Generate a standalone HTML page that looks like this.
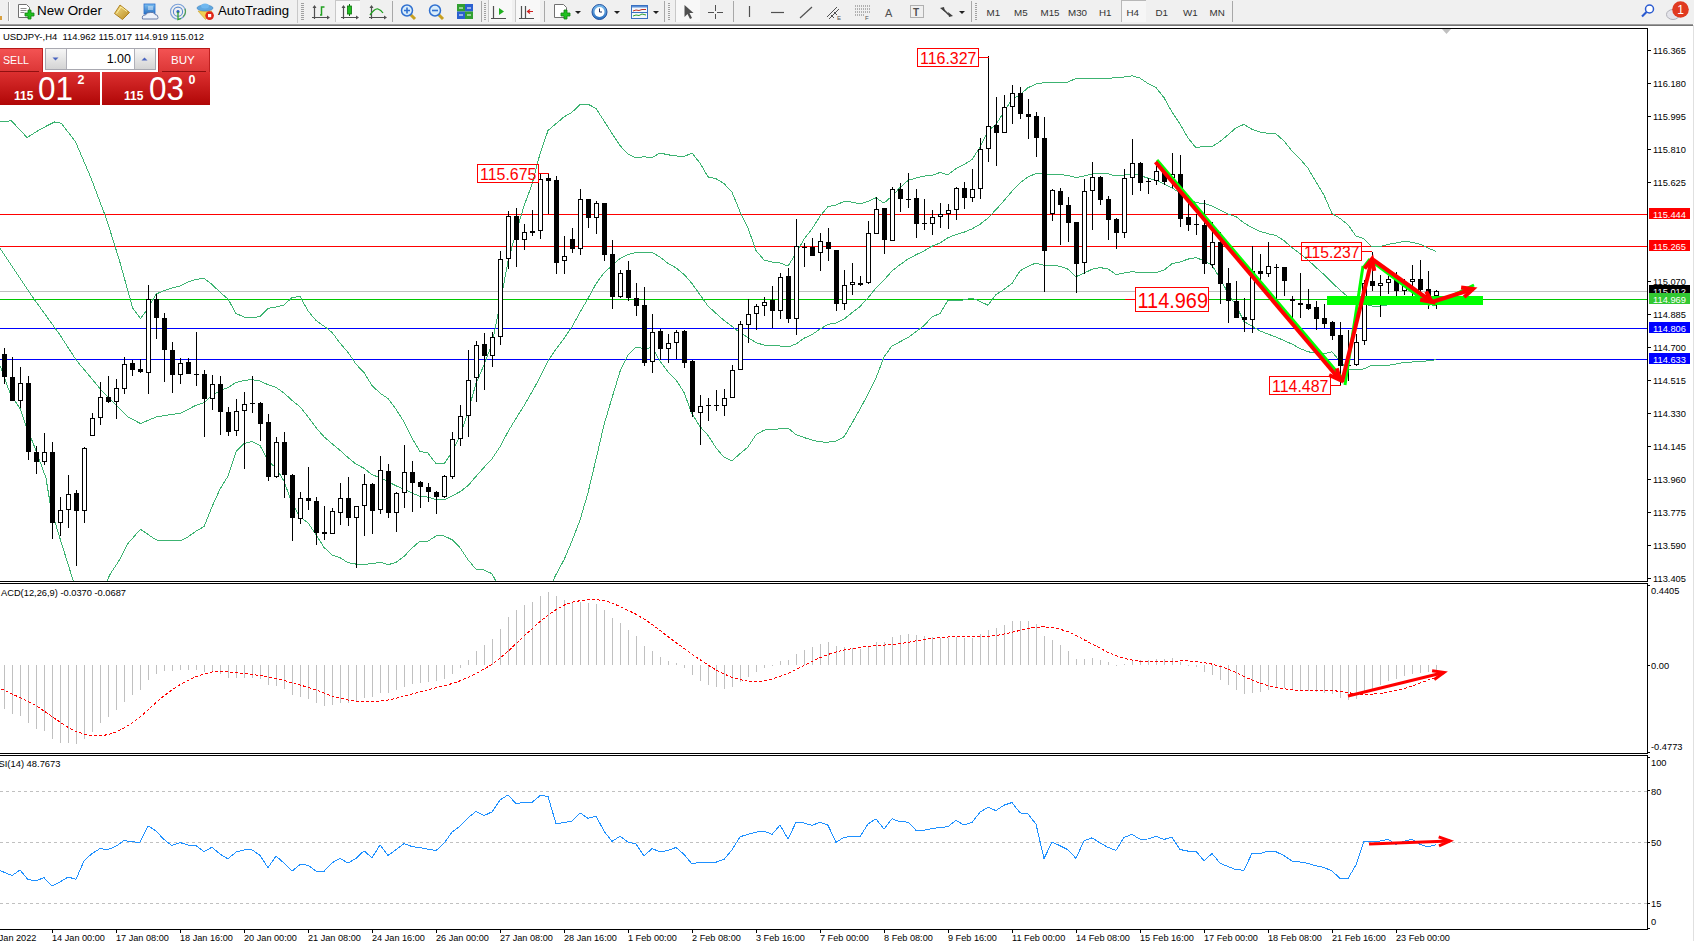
<!DOCTYPE html>
<html><head><meta charset="utf-8"><style>
html,body{margin:0;padding:0;}
body{width:1694px;height:941px;overflow:hidden;position:relative;background:#fff;font-family:"Liberation Sans",sans-serif;}
.tb{position:absolute;left:0;top:0;width:1694px;height:24px;background:#f0f0f0;}
.bev{position:absolute;left:0;top:24px;width:1693px;height:2px;background:linear-gradient(#b0b0b0,#606060);}
.bev2{position:absolute;left:0;top:26px;width:1693px;height:2px;background:#fff;}
</style></head><body>
<svg width="1694" height="941" style="position:absolute;left:0;top:0"><rect x="0" y="28" width="1694" height="913" fill="#fff"/><rect x="0" y="214" width="1647" height="1" fill="#ff0000"/><rect x="0" y="246" width="1647" height="1" fill="#ff0000"/><rect x="0" y="291" width="1647" height="1" fill="#c0c0c0"/><rect x="0" y="299" width="1647" height="1" fill="#00c800"/><rect x="0" y="328" width="1647" height="1" fill="#0000ff"/><rect x="0" y="359" width="1647" height="1" fill="#0000ff"/><line x1="0" y1="791.5" x2="1647" y2="791.5" stroke="#c0c0c0" stroke-width="1" stroke-dasharray="3,3"/><line x1="0" y1="842.5" x2="1647" y2="842.5" stroke="#c0c0c0" stroke-width="1" stroke-dasharray="3,3"/><line x1="0" y1="903.5" x2="1647" y2="903.5" stroke="#c0c0c0" stroke-width="1" stroke-dasharray="3,3"/><defs><clipPath id="mc"><rect x="0" y="29" width="1647" height="552"/></clipPath></defs><g clip-path="url(#mc)"><path d="M0.0,121.9 L11.4,120.8 L27.0,137.5 L41.6,128.6 L54.6,121.9 L61.4,123.4 L75.4,141.6 L91.0,178.0 L106.7,219.7 L119.7,261.3 L132.7,308.1 L140.5,318.5 L148.3,308.1 L156.0,294.1 L164.0,290.5 L172.0,288.1 L180.0,285.9 L188.0,282.1 L196.0,279.3 L204.0,278.5 L212.0,284.4 L220.0,292.2 L228.0,299.0 L236.0,313.4 L244.0,317.1 L252.0,317.8 L260.0,316.6 L268.0,308.4 L276.0,307.0 L284.0,304.9 L292.0,297.6 L300.0,296.4 L308.0,310.9 L316.0,320.5 L324.0,326.2 L332.0,332.3 L340.0,343.0 L348.0,352.4 L356.0,364.1 L364.0,372.6 L372.0,385.5 L380.0,393.1 L388.0,398.6 L396.0,409.3 L404.0,421.9 L412.0,438.2 L420.0,451.4 L428.0,453.1 L436.0,463.6 L444.0,463.9 L452.0,452.1 L460.0,436.0 L468.0,411.8 L476.0,383.5 L484.0,364.9 L492.0,343.8 L500.0,304.3 L508.0,261.4 L516.0,232.6 L524.0,206.0 L532.0,184.4 L540.0,153.7 L548.0,130.6 L556.0,123.7 L564.0,116.9 L572.0,112.3 L580.0,104.4 L588.0,104.2 L596.0,108.4 L604.0,120.9 L612.0,133.4 L620.0,145.6 L628.0,154.1 L636.0,157.9 L644.0,156.8 L652.0,157.5 L660.0,153.0 L668.0,154.8 L676.0,155.9 L684.0,156.5 L692.0,153.0 L700.0,163.1 L708.0,176.9 L716.0,178.7 L724.0,183.6 L732.0,192.2 L740.0,211.6 L748.0,228.1 L756.0,250.6 L764.0,259.9 L772.0,262.1 L780.0,263.0 L788.0,266.0 L796.0,253.4 L804.0,239.1 L812.0,228.9 L820.0,216.3 L828.0,206.6 L836.0,205.0 L844.0,201.5 L852.0,202.1 L860.0,204.0 L868.0,201.4 L876.0,197.8 L884.0,203.2 L892.0,196.0 L900.0,187.6 L908.0,180.4 L916.0,178.0 L924.0,176.1 L932.0,175.5 L940.0,172.4 L948.0,174.8 L956.0,168.5 L964.0,164.5 L972.0,159.6 L980.0,147.1 L988.0,131.0 L996.0,124.4 L1004.0,111.9 L1012.0,99.0 L1020.0,94.9 L1028.0,87.7 L1036.0,84.0 L1044.0,82.7 L1052.0,82.7 L1060.0,82.6 L1068.0,82.0 L1076.0,78.4 L1084.0,78.8 L1092.0,78.7 L1100.0,79.0 L1108.0,78.6 L1116.0,77.5 L1124.0,77.0 L1132.0,75.8 L1140.0,78.1 L1148.0,83.5 L1156.0,87.6 L1164.0,97.6 L1172.0,112.0 L1180.0,124.1 L1188.0,137.9 L1196.0,147.9 L1204.0,146.1 L1212.0,146.7 L1220.0,141.5 L1228.0,134.8 L1236.0,127.8 L1244.0,124.4 L1252.0,129.3 L1260.0,132.0 L1268.0,133.3 L1276.0,134.0 L1284.0,140.9 L1292.0,151.0 L1300.0,158.9 L1308.0,168.3 L1316.0,181.9 L1324.0,195.2 L1332.0,213.5 L1340.0,218.4 L1348.0,224.7 L1356.0,236.1 L1364.0,238.8 L1372.0,246.8 L1380.0,246.7 L1388.0,244.4 L1396.0,243.1 L1404.0,241.2 L1412.0,242.2 L1420.0,244.2 L1428.0,248.1 L1436.0,251.3" fill="none" stroke="#3cb371" stroke-width="1" shape-rendering="crispEdges"/><path d="M0.0,248.3 L15.6,271.7 L31.2,295.1 L60.0,335.0 L76.5,360.5 L102.0,391.0 L127.5,416.6 L140.5,423.6 L156.0,417.0 L164.0,415.7 L172.0,414.4 L180.0,413.4 L188.0,409.5 L196.0,405.2 L204.0,402.6 L212.0,395.6 L220.0,390.7 L228.0,387.6 L236.0,382.5 L244.0,380.4 L252.0,379.7 L260.0,381.0 L268.0,384.7 L276.0,387.4 L284.0,393.0 L292.0,400.4 L300.0,406.7 L308.0,416.8 L316.0,427.6 L324.0,436.8 L332.0,443.6 L340.0,450.3 L348.0,457.6 L356.0,464.1 L364.0,468.3 L372.0,474.7 L380.0,477.6 L388.0,481.7 L396.0,485.8 L404.0,489.2 L412.0,493.1 L420.0,496.3 L428.0,497.1 L436.0,499.8 L444.0,499.9 L452.0,495.9 L460.0,491.8 L468.0,485.7 L476.0,476.4 L484.0,467.4 L492.0,458.8 L500.0,446.8 L508.0,431.7 L516.0,418.4 L524.0,405.8 L532.0,391.9 L540.0,377.3 L548.0,360.7 L556.0,349.2 L564.0,338.4 L572.0,326.7 L580.0,312.3 L588.0,298.5 L596.0,283.8 L604.0,272.8 L612.0,265.7 L620.0,258.5 L628.0,254.4 L636.0,252.5 L644.0,252.8 L652.0,252.5 L660.0,257.0 L668.0,263.3 L676.0,267.9 L684.0,274.4 L692.0,283.5 L700.0,294.8 L708.0,306.1 L716.0,313.3 L724.0,320.4 L732.0,326.4 L740.0,332.7 L748.0,337.5 L756.0,342.7 L764.0,345.0 L772.0,345.8 L780.0,346.0 L788.0,347.0 L796.0,344.0 L804.0,338.3 L812.0,334.5 L820.0,329.1 L828.0,324.4 L836.0,323.0 L844.0,319.1 L852.0,312.7 L860.0,306.5 L868.0,297.8 L876.0,288.0 L884.0,280.0 L892.0,271.0 L900.0,264.7 L908.0,259.0 L916.0,254.8 L924.0,250.9 L932.0,246.2 L940.0,243.0 L948.0,237.6 L956.0,234.7 L964.0,232.2 L972.0,228.9 L980.0,224.3 L988.0,218.1 L996.0,209.6 L1004.0,200.7 L1012.0,191.2 L1020.0,182.8 L1028.0,177.0 L1036.0,173.5 L1044.0,174.0 L1052.0,174.1 L1060.0,174.4 L1068.0,175.6 L1076.0,177.6 L1084.0,176.0 L1092.0,174.0 L1100.0,173.3 L1108.0,173.8 L1116.0,176.0 L1124.0,175.0 L1132.0,173.7 L1140.0,175.4 L1148.0,178.2 L1156.0,180.1 L1164.0,183.8 L1172.0,187.9 L1180.0,193.1 L1188.0,198.5 L1196.0,202.8 L1204.0,203.4 L1212.0,206.0 L1220.0,210.0 L1228.0,213.9 L1236.0,216.6 L1244.0,223.0 L1252.0,227.7 L1260.0,231.4 L1268.0,233.7 L1276.0,235.5 L1284.0,240.7 L1292.0,247.6 L1300.0,253.7 L1308.0,260.0 L1316.0,267.4 L1324.0,274.5 L1332.0,282.6 L1340.0,290.0 L1348.0,297.0 L1356.0,302.9 L1364.0,303.8 L1372.0,306.0 L1380.0,306.0 L1388.0,304.8 L1396.0,303.5 L1404.0,301.7 L1412.0,302.1 L1420.0,302.9 L1428.0,304.4 L1436.0,305.6" fill="none" stroke="#3cb371" stroke-width="1" shape-rendering="crispEdges"/><path d="M0.0,365.6 L10.2,393.6 L20.4,409.0 L25.5,424.2 L35.7,449.7 L45.9,477.8 L51.0,508.4 L58.6,533.9 L71.4,575.0 L76.0,590.0 L104.0,590.0 L109.6,575.0 L119.8,559.4 L127.5,544.0 L140.5,529.2 L156.0,539.9 L164.0,540.9 L172.0,540.7 L180.0,541.0 L188.0,536.9 L196.0,531.1 L204.0,526.6 L212.0,506.8 L220.0,489.2 L228.0,476.1 L236.0,451.7 L244.0,443.6 L252.0,441.5 L260.0,445.4 L268.0,461.1 L276.0,467.8 L284.0,481.1 L292.0,503.3 L300.0,517.0 L308.0,522.8 L316.0,534.7 L324.0,547.4 L332.0,554.9 L340.0,557.7 L348.0,562.7 L356.0,564.1 L364.0,564.1 L372.0,563.9 L380.0,562.1 L388.0,564.8 L396.0,562.3 L404.0,556.5 L412.0,548.0 L420.0,541.2 L428.0,541.1 L436.0,536.0 L444.0,535.9 L452.0,539.7 L460.0,547.7 L468.0,559.7 L476.0,569.3 L484.0,570.0 L492.0,573.7 L500.0,589.3 L508.0,602.0 L516.0,604.2 L524.0,605.7 L532.0,599.3 L540.0,600.9 L548.0,590.8 L556.0,574.6 L564.0,559.8 L572.0,541.0 L580.0,520.1 L588.0,492.8 L596.0,459.3 L604.0,424.7 L612.0,397.9 L620.0,371.5 L628.0,354.8 L636.0,347.0 L644.0,348.7 L652.0,347.6 L660.0,361.0 L668.0,371.9 L676.0,379.9 L684.0,392.4 L692.0,413.9 L700.0,426.5 L708.0,435.3 L716.0,447.9 L724.0,457.2 L732.0,460.7 L740.0,453.7 L748.0,446.9 L756.0,434.7 L764.0,430.1 L772.0,429.4 L780.0,428.9 L788.0,428.0 L796.0,434.6 L804.0,437.5 L812.0,440.1 L820.0,441.9 L828.0,442.2 L836.0,441.1 L844.0,436.8 L852.0,423.2 L860.0,409.0 L868.0,394.2 L876.0,378.1 L884.0,356.9 L892.0,345.9 L900.0,341.8 L908.0,337.5 L916.0,331.7 L924.0,325.7 L932.0,316.9 L940.0,313.6 L948.0,300.3 L956.0,300.9 L964.0,299.9 L972.0,298.1 L980.0,301.4 L988.0,305.2 L996.0,294.7 L1004.0,289.5 L1012.0,283.5 L1020.0,270.8 L1028.0,266.3 L1036.0,263.0 L1044.0,265.4 L1052.0,265.5 L1060.0,266.2 L1068.0,269.2 L1076.0,276.7 L1084.0,273.1 L1092.0,269.3 L1100.0,267.6 L1108.0,268.9 L1116.0,274.5 L1124.0,273.0 L1132.0,271.6 L1140.0,272.7 L1148.0,272.9 L1156.0,272.6 L1164.0,270.1 L1172.0,263.7 L1180.0,262.0 L1188.0,259.1 L1196.0,257.7 L1204.0,260.7 L1212.0,265.3 L1220.0,278.4 L1228.0,293.0 L1236.0,305.4 L1244.0,321.6 L1252.0,326.1 L1260.0,330.9 L1268.0,334.1 L1276.0,337.0 L1284.0,340.5 L1292.0,344.1 L1300.0,348.5 L1308.0,351.8 L1316.0,352.9 L1324.0,353.7 L1332.0,351.7 L1340.0,361.6 L1348.0,369.4 L1356.0,369.7 L1364.0,368.9 L1372.0,365.2 L1380.0,365.3 L1388.0,365.3 L1396.0,364.0 L1404.0,362.3 L1412.0,362.0 L1420.0,361.7 L1428.0,360.8 L1436.0,359.8" fill="none" stroke="#3cb371" stroke-width="1" shape-rendering="crispEdges"/></g><g shape-rendering="crispEdges"><rect x="4" y="348" width="1" height="36" fill="#000"/><rect x="2" y="354" width="5" height="23" fill="#000"/><rect x="12" y="357" width="1" height="44" fill="#000"/><rect x="10" y="377" width="5" height="24" fill="#000"/><rect x="20" y="367" width="1" height="41" fill="#000"/><rect x="18.5" y="383.5" width="4" height="17" fill="#fff" stroke="#000" stroke-width="1"/><rect x="28" y="376" width="1" height="84" fill="#000"/><rect x="26" y="383" width="5" height="69" fill="#000"/><rect x="36" y="446" width="1" height="28" fill="#000"/><rect x="34" y="452" width="5" height="10" fill="#000"/><rect x="44" y="433" width="1" height="32" fill="#000"/><rect x="42.5" y="452.5" width="4" height="9" fill="#fff" stroke="#000" stroke-width="1"/><rect x="52" y="442" width="1" height="97" fill="#000"/><rect x="50" y="452" width="5" height="71" fill="#000"/><rect x="60" y="497" width="1" height="39" fill="#000"/><rect x="58.5" y="510.5" width="4" height="12" fill="#fff" stroke="#000" stroke-width="1"/><rect x="68" y="475" width="1" height="53" fill="#000"/><rect x="66.5" y="494.5" width="4" height="15" fill="#fff" stroke="#000" stroke-width="1"/><rect x="76" y="490" width="1" height="76" fill="#000"/><rect x="74" y="493" width="5" height="18" fill="#000"/><rect x="84" y="447" width="1" height="76" fill="#000"/><rect x="82.5" y="448.5" width="4" height="62" fill="#fff" stroke="#000" stroke-width="1"/><rect x="92" y="413" width="1" height="23" fill="#000"/><rect x="90.5" y="418.5" width="4" height="17" fill="#fff" stroke="#000" stroke-width="1"/><rect x="100" y="382" width="1" height="43" fill="#000"/><rect x="98.5" y="397.5" width="4" height="20" fill="#fff" stroke="#000" stroke-width="1"/><rect x="108" y="376" width="1" height="27" fill="#000"/><rect x="106" y="397" width="5" height="5" fill="#000"/><rect x="116" y="379" width="1" height="40" fill="#000"/><rect x="114.5" y="388.5" width="4" height="13" fill="#fff" stroke="#000" stroke-width="1"/><rect x="124" y="357" width="1" height="37" fill="#000"/><rect x="122.5" y="364.5" width="4" height="24" fill="#fff" stroke="#000" stroke-width="1"/><rect x="132" y="360" width="1" height="16" fill="#000"/><rect x="130" y="363" width="5" height="7" fill="#000"/><rect x="140" y="359" width="1" height="14" fill="#000"/><rect x="138" y="369" width="5" height="3" fill="#000"/><rect x="148" y="285" width="1" height="109" fill="#000"/><rect x="146.5" y="299.5" width="4" height="73" fill="#fff" stroke="#000" stroke-width="1"/><rect x="156" y="294" width="1" height="45" fill="#000"/><rect x="154" y="299" width="5" height="19" fill="#000"/><rect x="164" y="313" width="1" height="69" fill="#000"/><rect x="162" y="318" width="5" height="32" fill="#000"/><rect x="172" y="342" width="1" height="51" fill="#000"/><rect x="170" y="350" width="5" height="25" fill="#000"/><rect x="180" y="358" width="1" height="26" fill="#000"/><rect x="178.5" y="363.5" width="4" height="11" fill="#fff" stroke="#000" stroke-width="1"/><rect x="188" y="358" width="1" height="16" fill="#000"/><rect x="186" y="362" width="5" height="12" fill="#000"/><rect x="196" y="332" width="1" height="54" fill="#000"/><rect x="194" y="374" width="5" height="1" fill="#000"/><rect x="204" y="370" width="1" height="67" fill="#000"/><rect x="202" y="374" width="5" height="25" fill="#000"/><rect x="212" y="375" width="1" height="35" fill="#000"/><rect x="210.5" y="384.5" width="4" height="14" fill="#fff" stroke="#000" stroke-width="1"/><rect x="220" y="376" width="1" height="59" fill="#000"/><rect x="218" y="384" width="5" height="28" fill="#000"/><rect x="228" y="407" width="1" height="29" fill="#000"/><rect x="226" y="412" width="5" height="20" fill="#000"/><rect x="236" y="399" width="1" height="37" fill="#000"/><rect x="234.5" y="411.5" width="4" height="19" fill="#fff" stroke="#000" stroke-width="1"/><rect x="244" y="392" width="1" height="77" fill="#000"/><rect x="242.5" y="404.5" width="4" height="6" fill="#fff" stroke="#000" stroke-width="1"/><rect x="252" y="376" width="1" height="37" fill="#000"/><rect x="250" y="403" width="5" height="1" fill="#000"/><rect x="260" y="402" width="1" height="39" fill="#000"/><rect x="258" y="403" width="5" height="21" fill="#000"/><rect x="268" y="414" width="1" height="67" fill="#000"/><rect x="266" y="422" width="5" height="55" fill="#000"/><rect x="276" y="437" width="1" height="41" fill="#000"/><rect x="274.5" y="442.5" width="4" height="34" fill="#fff" stroke="#000" stroke-width="1"/><rect x="284" y="432" width="1" height="66" fill="#000"/><rect x="282" y="442" width="5" height="33" fill="#000"/><rect x="292" y="474" width="1" height="67" fill="#000"/><rect x="290" y="475" width="5" height="43" fill="#000"/><rect x="300" y="492" width="1" height="32" fill="#000"/><rect x="298.5" y="498.5" width="4" height="20" fill="#fff" stroke="#000" stroke-width="1"/><rect x="308" y="467" width="1" height="43" fill="#000"/><rect x="306" y="498" width="5" height="3" fill="#000"/><rect x="316" y="497" width="1" height="48" fill="#000"/><rect x="314" y="501" width="5" height="32" fill="#000"/><rect x="324" y="506" width="1" height="34" fill="#000"/><rect x="322" y="532" width="5" height="2" fill="#000"/><rect x="332" y="508" width="1" height="26" fill="#000"/><rect x="330.5" y="511.5" width="4" height="22" fill="#fff" stroke="#000" stroke-width="1"/><rect x="340" y="483" width="1" height="42" fill="#000"/><rect x="338.5" y="498.5" width="4" height="14" fill="#fff" stroke="#000" stroke-width="1"/><rect x="348" y="477" width="1" height="49" fill="#000"/><rect x="346" y="498" width="5" height="20" fill="#000"/><rect x="356" y="506" width="1" height="62" fill="#000"/><rect x="354.5" y="506.5" width="4" height="11" fill="#fff" stroke="#000" stroke-width="1"/><rect x="364" y="474" width="1" height="62" fill="#000"/><rect x="362.5" y="484.5" width="4" height="21" fill="#fff" stroke="#000" stroke-width="1"/><rect x="372" y="483" width="1" height="51" fill="#000"/><rect x="370" y="484" width="5" height="27" fill="#000"/><rect x="380" y="456" width="1" height="58" fill="#000"/><rect x="378.5" y="470.5" width="4" height="39" fill="#fff" stroke="#000" stroke-width="1"/><rect x="388" y="464" width="1" height="54" fill="#000"/><rect x="386" y="471" width="5" height="42" fill="#000"/><rect x="396" y="492" width="1" height="40" fill="#000"/><rect x="394.5" y="493.5" width="4" height="19" fill="#fff" stroke="#000" stroke-width="1"/><rect x="404" y="445" width="1" height="63" fill="#000"/><rect x="402.5" y="472.5" width="4" height="20" fill="#fff" stroke="#000" stroke-width="1"/><rect x="412" y="461" width="1" height="51" fill="#000"/><rect x="410" y="472" width="5" height="11" fill="#000"/><rect x="420" y="481" width="1" height="27" fill="#000"/><rect x="418" y="482" width="5" height="5" fill="#000"/><rect x="428" y="483" width="1" height="19" fill="#000"/><rect x="426" y="487" width="5" height="5" fill="#000"/><rect x="436" y="491" width="1" height="23" fill="#000"/><rect x="434" y="492" width="5" height="5" fill="#000"/><rect x="444" y="475" width="1" height="23" fill="#000"/><rect x="442.5" y="476.5" width="4" height="20" fill="#fff" stroke="#000" stroke-width="1"/><rect x="452" y="432" width="1" height="47" fill="#000"/><rect x="450.5" y="439.5" width="4" height="37" fill="#fff" stroke="#000" stroke-width="1"/><rect x="460" y="405" width="1" height="41" fill="#000"/><rect x="458.5" y="416.5" width="4" height="22" fill="#fff" stroke="#000" stroke-width="1"/><rect x="468" y="350" width="1" height="87" fill="#000"/><rect x="466.5" y="380.5" width="4" height="35" fill="#fff" stroke="#000" stroke-width="1"/><rect x="476" y="341" width="1" height="61" fill="#000"/><rect x="474.5" y="345.5" width="4" height="32" fill="#fff" stroke="#000" stroke-width="1"/><rect x="484" y="333" width="1" height="57" fill="#000"/><rect x="482" y="344" width="5" height="12" fill="#000"/><rect x="492" y="332" width="1" height="35" fill="#000"/><rect x="490.5" y="337.5" width="4" height="18" fill="#fff" stroke="#000" stroke-width="1"/><rect x="500" y="251" width="1" height="94" fill="#000"/><rect x="498.5" y="259.5" width="4" height="77" fill="#fff" stroke="#000" stroke-width="1"/><rect x="508" y="211" width="1" height="58" fill="#000"/><rect x="506.5" y="216.5" width="4" height="42" fill="#fff" stroke="#000" stroke-width="1"/><rect x="516" y="208" width="1" height="59" fill="#000"/><rect x="514" y="216" width="5" height="24" fill="#000"/><rect x="524" y="224" width="1" height="26" fill="#000"/><rect x="522.5" y="232.5" width="4" height="7" fill="#fff" stroke="#000" stroke-width="1"/><rect x="532" y="210" width="1" height="26" fill="#000"/><rect x="530.5" y="231.5" width="4" height="1" fill="#fff" stroke="#000" stroke-width="1"/><rect x="540" y="174" width="1" height="65" fill="#000"/><rect x="538.5" y="179.5" width="4" height="51" fill="#fff" stroke="#000" stroke-width="1"/><rect x="548" y="173" width="1" height="41" fill="#000"/><rect x="546" y="178" width="5" height="3" fill="#000"/><rect x="556" y="176" width="1" height="98" fill="#000"/><rect x="554" y="180" width="5" height="83" fill="#000"/><rect x="564" y="236" width="1" height="38" fill="#000"/><rect x="562.5" y="256.5" width="4" height="4" fill="#fff" stroke="#000" stroke-width="1"/><rect x="572" y="228" width="1" height="25" fill="#000"/><rect x="570" y="239" width="5" height="10" fill="#000"/><rect x="580" y="189" width="1" height="66" fill="#000"/><rect x="578.5" y="199.5" width="4" height="49" fill="#fff" stroke="#000" stroke-width="1"/><rect x="588" y="199" width="1" height="29" fill="#000"/><rect x="586" y="199" width="5" height="19" fill="#000"/><rect x="596" y="201" width="1" height="33" fill="#000"/><rect x="594.5" y="203.5" width="4" height="14" fill="#fff" stroke="#000" stroke-width="1"/><rect x="604" y="203" width="1" height="58" fill="#000"/><rect x="602" y="203" width="5" height="52" fill="#000"/><rect x="612" y="240" width="1" height="69" fill="#000"/><rect x="610" y="254" width="5" height="43" fill="#000"/><rect x="620" y="270" width="1" height="28" fill="#000"/><rect x="618.5" y="273.5" width="4" height="23" fill="#fff" stroke="#000" stroke-width="1"/><rect x="628" y="261" width="1" height="40" fill="#000"/><rect x="626" y="270" width="5" height="28" fill="#000"/><rect x="636" y="283" width="1" height="33" fill="#000"/><rect x="634" y="298" width="5" height="8" fill="#000"/><rect x="644" y="287" width="1" height="79" fill="#000"/><rect x="642" y="305" width="5" height="58" fill="#000"/><rect x="652" y="314" width="1" height="59" fill="#000"/><rect x="650.5" y="332.5" width="4" height="29" fill="#fff" stroke="#000" stroke-width="1"/><rect x="660" y="329" width="1" height="31" fill="#000"/><rect x="658" y="331" width="5" height="18" fill="#000"/><rect x="668" y="334" width="1" height="29" fill="#000"/><rect x="666.5" y="343.5" width="4" height="5" fill="#fff" stroke="#000" stroke-width="1"/><rect x="676" y="330" width="1" height="29" fill="#000"/><rect x="674.5" y="332.5" width="4" height="10" fill="#fff" stroke="#000" stroke-width="1"/><rect x="684" y="330" width="1" height="38" fill="#000"/><rect x="682" y="331" width="5" height="32" fill="#000"/><rect x="692" y="360" width="1" height="57" fill="#000"/><rect x="690" y="361" width="5" height="51" fill="#000"/><rect x="700" y="395" width="1" height="50" fill="#000"/><rect x="698.5" y="406.5" width="4" height="6" fill="#fff" stroke="#000" stroke-width="1"/><rect x="708" y="398" width="1" height="23" fill="#000"/><rect x="706" y="405" width="5" height="1" fill="#000"/><rect x="716" y="390" width="1" height="21" fill="#000"/><rect x="714" y="405" width="5" height="1" fill="#000"/><rect x="724" y="389" width="1" height="27" fill="#000"/><rect x="722.5" y="398.5" width="4" height="7" fill="#fff" stroke="#000" stroke-width="1"/><rect x="732" y="365" width="1" height="33" fill="#000"/><rect x="730.5" y="370.5" width="4" height="27" fill="#fff" stroke="#000" stroke-width="1"/><rect x="740" y="321" width="1" height="49" fill="#000"/><rect x="738.5" y="324.5" width="4" height="45" fill="#fff" stroke="#000" stroke-width="1"/><rect x="748" y="299" width="1" height="44" fill="#000"/><rect x="746.5" y="314.5" width="4" height="10" fill="#fff" stroke="#000" stroke-width="1"/><rect x="756" y="304" width="1" height="26" fill="#000"/><rect x="754.5" y="306.5" width="4" height="7" fill="#fff" stroke="#000" stroke-width="1"/><rect x="764" y="297" width="1" height="19" fill="#000"/><rect x="762.5" y="302.5" width="4" height="3" fill="#fff" stroke="#000" stroke-width="1"/><rect x="772" y="286" width="1" height="42" fill="#000"/><rect x="770" y="300" width="5" height="11" fill="#000"/><rect x="780" y="273" width="1" height="46" fill="#000"/><rect x="778.5" y="277.5" width="4" height="33" fill="#fff" stroke="#000" stroke-width="1"/><rect x="788" y="268" width="1" height="55" fill="#000"/><rect x="786" y="276" width="5" height="43" fill="#000"/><rect x="796" y="219" width="1" height="116" fill="#000"/><rect x="794.5" y="246.5" width="4" height="72" fill="#fff" stroke="#000" stroke-width="1"/><rect x="804" y="243" width="1" height="24" fill="#000"/><rect x="802" y="247" width="5" height="1" fill="#000"/><rect x="812" y="238" width="1" height="18" fill="#000"/><rect x="810" y="247" width="5" height="9" fill="#000"/><rect x="820" y="233" width="1" height="38" fill="#000"/><rect x="818.5" y="241.5" width="4" height="11" fill="#fff" stroke="#000" stroke-width="1"/><rect x="828" y="228" width="1" height="33" fill="#000"/><rect x="826" y="242" width="5" height="7" fill="#000"/><rect x="836" y="250" width="1" height="61" fill="#000"/><rect x="834" y="250" width="5" height="54" fill="#000"/><rect x="844" y="270" width="1" height="40" fill="#000"/><rect x="842.5" y="285.5" width="4" height="18" fill="#fff" stroke="#000" stroke-width="1"/><rect x="852" y="263" width="1" height="32" fill="#000"/><rect x="850.5" y="282.5" width="4" height="2" fill="#fff" stroke="#000" stroke-width="1"/><rect x="860" y="276" width="1" height="10" fill="#000"/><rect x="858" y="283" width="5" height="2" fill="#000"/><rect x="868" y="221" width="1" height="63" fill="#000"/><rect x="866.5" y="233.5" width="4" height="49" fill="#fff" stroke="#000" stroke-width="1"/><rect x="876" y="197" width="1" height="37" fill="#000"/><rect x="874.5" y="209.5" width="4" height="24" fill="#fff" stroke="#000" stroke-width="1"/><rect x="884" y="208" width="1" height="46" fill="#000"/><rect x="882" y="208" width="5" height="32" fill="#000"/><rect x="892" y="187" width="1" height="54" fill="#000"/><rect x="890.5" y="189.5" width="4" height="51" fill="#fff" stroke="#000" stroke-width="1"/><rect x="900" y="183" width="1" height="29" fill="#000"/><rect x="898" y="189" width="5" height="10" fill="#000"/><rect x="908" y="173" width="1" height="35" fill="#000"/><rect x="906" y="199" width="5" height="1" fill="#000"/><rect x="916" y="189" width="1" height="49" fill="#000"/><rect x="914" y="198" width="5" height="26" fill="#000"/><rect x="924" y="199" width="1" height="31" fill="#000"/><rect x="922" y="223" width="5" height="1" fill="#000"/><rect x="932" y="210" width="1" height="25" fill="#000"/><rect x="930.5" y="217.5" width="4" height="6" fill="#fff" stroke="#000" stroke-width="1"/><rect x="940" y="203" width="1" height="25" fill="#000"/><rect x="938.5" y="214.5" width="4" height="2" fill="#fff" stroke="#000" stroke-width="1"/><rect x="948" y="204" width="1" height="25" fill="#000"/><rect x="946.5" y="210.5" width="4" height="3" fill="#fff" stroke="#000" stroke-width="1"/><rect x="956" y="187" width="1" height="33" fill="#000"/><rect x="954.5" y="188.5" width="4" height="21" fill="#fff" stroke="#000" stroke-width="1"/><rect x="964" y="182" width="1" height="27" fill="#000"/><rect x="962" y="188" width="5" height="10" fill="#000"/><rect x="972" y="169" width="1" height="33" fill="#000"/><rect x="970.5" y="189.5" width="4" height="8" fill="#fff" stroke="#000" stroke-width="1"/><rect x="980" y="138" width="1" height="61" fill="#000"/><rect x="978.5" y="149.5" width="4" height="39" fill="#fff" stroke="#000" stroke-width="1"/><rect x="988" y="56" width="1" height="106" fill="#000"/><rect x="986.5" y="126.5" width="4" height="22" fill="#fff" stroke="#000" stroke-width="1"/><rect x="996" y="97" width="1" height="69" fill="#000"/><rect x="994" y="125" width="5" height="8" fill="#000"/><rect x="1004" y="95" width="1" height="38" fill="#000"/><rect x="1002.5" y="107.5" width="4" height="25" fill="#fff" stroke="#000" stroke-width="1"/><rect x="1012" y="85" width="1" height="39" fill="#000"/><rect x="1010.5" y="93.5" width="4" height="13" fill="#fff" stroke="#000" stroke-width="1"/><rect x="1020" y="87" width="1" height="32" fill="#000"/><rect x="1018" y="93" width="5" height="21" fill="#000"/><rect x="1028" y="99" width="1" height="40" fill="#000"/><rect x="1026" y="114" width="5" height="3" fill="#000"/><rect x="1036" y="112" width="1" height="45" fill="#000"/><rect x="1034" y="116" width="5" height="22" fill="#000"/><rect x="1044" y="117" width="1" height="175" fill="#000"/><rect x="1042" y="138" width="5" height="113" fill="#000"/><rect x="1052" y="189" width="1" height="32" fill="#000"/><rect x="1050.5" y="190.5" width="4" height="23" fill="#fff" stroke="#000" stroke-width="1"/><rect x="1060" y="188" width="1" height="57" fill="#000"/><rect x="1058" y="191" width="5" height="14" fill="#000"/><rect x="1068" y="197" width="1" height="45" fill="#000"/><rect x="1066" y="205" width="5" height="18" fill="#000"/><rect x="1076" y="222" width="1" height="71" fill="#000"/><rect x="1074" y="222" width="5" height="42" fill="#000"/><rect x="1084" y="179" width="1" height="95" fill="#000"/><rect x="1082.5" y="191.5" width="4" height="71" fill="#fff" stroke="#000" stroke-width="1"/><rect x="1092" y="162" width="1" height="68" fill="#000"/><rect x="1090.5" y="177.5" width="4" height="13" fill="#fff" stroke="#000" stroke-width="1"/><rect x="1100" y="176" width="1" height="29" fill="#000"/><rect x="1098" y="177" width="5" height="23" fill="#000"/><rect x="1108" y="196" width="1" height="44" fill="#000"/><rect x="1106" y="199" width="5" height="21" fill="#000"/><rect x="1116" y="218" width="1" height="31" fill="#000"/><rect x="1114" y="219" width="5" height="14" fill="#000"/><rect x="1124" y="169" width="1" height="69" fill="#000"/><rect x="1122.5" y="178.5" width="4" height="54" fill="#fff" stroke="#000" stroke-width="1"/><rect x="1132" y="139" width="1" height="56" fill="#000"/><rect x="1130.5" y="163.5" width="4" height="14" fill="#fff" stroke="#000" stroke-width="1"/><rect x="1140" y="162" width="1" height="29" fill="#000"/><rect x="1138" y="163" width="5" height="20" fill="#000"/><rect x="1148" y="178" width="1" height="16" fill="#000"/><rect x="1146" y="181" width="5" height="1" fill="#000"/><rect x="1156" y="166" width="1" height="19" fill="#000"/><rect x="1154.5" y="171.5" width="4" height="9" fill="#fff" stroke="#000" stroke-width="1"/><rect x="1164" y="170" width="1" height="15" fill="#000"/><rect x="1162" y="171" width="5" height="11" fill="#000"/><rect x="1172" y="153" width="1" height="35" fill="#000"/><rect x="1170.5" y="174.5" width="4" height="3" fill="#fff" stroke="#000" stroke-width="1"/><rect x="1180" y="155" width="1" height="72" fill="#000"/><rect x="1178" y="174" width="5" height="45" fill="#000"/><rect x="1188" y="195" width="1" height="36" fill="#000"/><rect x="1186" y="217" width="5" height="8" fill="#000"/><rect x="1196" y="214" width="1" height="21" fill="#000"/><rect x="1194" y="224" width="5" height="1" fill="#000"/><rect x="1204" y="200" width="1" height="74" fill="#000"/><rect x="1202" y="225" width="5" height="39" fill="#000"/><rect x="1212" y="222" width="1" height="46" fill="#000"/><rect x="1210.5" y="242.5" width="4" height="22" fill="#fff" stroke="#000" stroke-width="1"/><rect x="1220" y="232" width="1" height="72" fill="#000"/><rect x="1218" y="242" width="5" height="42" fill="#000"/><rect x="1228" y="268" width="1" height="55" fill="#000"/><rect x="1226" y="283" width="5" height="18" fill="#000"/><rect x="1236" y="281" width="1" height="37" fill="#000"/><rect x="1234" y="301" width="5" height="17" fill="#000"/><rect x="1244" y="298" width="1" height="34" fill="#000"/><rect x="1242" y="317" width="5" height="3" fill="#000"/><rect x="1252" y="246" width="1" height="87" fill="#000"/><rect x="1250.5" y="271.5" width="4" height="48" fill="#fff" stroke="#000" stroke-width="1"/><rect x="1260" y="254" width="1" height="26" fill="#000"/><rect x="1258" y="271" width="5" height="3" fill="#000"/><rect x="1268" y="242" width="1" height="35" fill="#000"/><rect x="1266.5" y="266.5" width="4" height="7" fill="#fff" stroke="#000" stroke-width="1"/><rect x="1276" y="264" width="1" height="35" fill="#000"/><rect x="1274" y="267" width="5" height="1" fill="#000"/><rect x="1284" y="267" width="1" height="29" fill="#000"/><rect x="1282" y="267" width="5" height="14" fill="#000"/><rect x="1292" y="296" width="1" height="22" fill="#000"/><rect x="1290" y="299" width="5" height="2" fill="#000"/><rect x="1300" y="273" width="1" height="45" fill="#000"/><rect x="1298" y="303" width="5" height="2" fill="#000"/><rect x="1308" y="289" width="1" height="21" fill="#000"/><rect x="1306" y="304" width="5" height="5" fill="#000"/><rect x="1316" y="301" width="1" height="29" fill="#000"/><rect x="1314" y="307" width="5" height="12" fill="#000"/><rect x="1324" y="304" width="1" height="24" fill="#000"/><rect x="1322" y="318" width="5" height="6" fill="#000"/><rect x="1332" y="321" width="1" height="19" fill="#000"/><rect x="1330" y="322" width="5" height="14" fill="#000"/><rect x="1340" y="322" width="1" height="63" fill="#000"/><rect x="1338" y="335" width="5" height="31" fill="#000"/><rect x="1348" y="330" width="1" height="51" fill="#000"/><rect x="1346" y="365" width="5" height="1" fill="#000"/><rect x="1356" y="334" width="1" height="32" fill="#000"/><rect x="1354.5" y="342.5" width="4" height="22" fill="#fff" stroke="#000" stroke-width="1"/><rect x="1364" y="280" width="1" height="65" fill="#000"/><rect x="1362.5" y="283.5" width="4" height="57" fill="#fff" stroke="#000" stroke-width="1"/><rect x="1372" y="252" width="1" height="39" fill="#000"/><rect x="1370" y="281" width="5" height="5" fill="#000"/><rect x="1380" y="275" width="1" height="42" fill="#000"/><rect x="1378.5" y="283.5" width="4" height="2" fill="#fff" stroke="#000" stroke-width="1"/><rect x="1388" y="276" width="1" height="18" fill="#000"/><rect x="1386.5" y="279.5" width="4" height="3" fill="#fff" stroke="#000" stroke-width="1"/><rect x="1396" y="272" width="1" height="24" fill="#000"/><rect x="1394" y="278" width="5" height="13" fill="#000"/><rect x="1404" y="279" width="1" height="16" fill="#000"/><rect x="1402.5" y="284.5" width="4" height="6" fill="#fff" stroke="#000" stroke-width="1"/><rect x="1412" y="265" width="1" height="31" fill="#000"/><rect x="1410.5" y="279.5" width="4" height="2" fill="#fff" stroke="#000" stroke-width="1"/><rect x="1420" y="260" width="1" height="33" fill="#000"/><rect x="1418" y="279" width="5" height="11" fill="#000"/><rect x="1428" y="271" width="1" height="38" fill="#000"/><rect x="1426" y="289" width="5" height="7" fill="#000"/><rect x="1436" y="290" width="1" height="19" fill="#000"/><rect x="1434.5" y="291.5" width="4" height="4" fill="#fff" stroke="#000" stroke-width="1"/></g><g shape-rendering="crispEdges"><rect x="4" y="665" width="1" height="44" fill="#c0c0c0"/><rect x="12" y="665" width="1" height="49" fill="#c0c0c0"/><rect x="20" y="665" width="1" height="51" fill="#c0c0c0"/><rect x="28" y="665" width="1" height="58" fill="#c0c0c0"/><rect x="36" y="665" width="1" height="64" fill="#c0c0c0"/><rect x="44" y="665" width="1" height="66" fill="#c0c0c0"/><rect x="52" y="665" width="1" height="74" fill="#c0c0c0"/><rect x="60" y="665" width="1" height="78" fill="#c0c0c0"/><rect x="68" y="665" width="1" height="78" fill="#c0c0c0"/><rect x="76" y="665" width="1" height="79" fill="#c0c0c0"/><rect x="84" y="665" width="1" height="74" fill="#c0c0c0"/><rect x="92" y="665" width="1" height="67" fill="#c0c0c0"/><rect x="100" y="665" width="1" height="58" fill="#c0c0c0"/><rect x="108" y="665" width="1" height="52" fill="#c0c0c0"/><rect x="116" y="665" width="1" height="45" fill="#c0c0c0"/><rect x="124" y="665" width="1" height="37" fill="#c0c0c0"/><rect x="132" y="665" width="1" height="30" fill="#c0c0c0"/><rect x="140" y="665" width="1" height="25" fill="#c0c0c0"/><rect x="148" y="665" width="1" height="15" fill="#c0c0c0"/><rect x="156" y="665" width="1" height="9" fill="#c0c0c0"/><rect x="164" y="665" width="1" height="6" fill="#c0c0c0"/><rect x="172" y="665" width="1" height="6" fill="#c0c0c0"/><rect x="180" y="665" width="1" height="5" fill="#c0c0c0"/><rect x="188" y="665" width="1" height="5" fill="#c0c0c0"/><rect x="196" y="665" width="1" height="5" fill="#c0c0c0"/><rect x="204" y="665" width="1" height="7" fill="#c0c0c0"/><rect x="212" y="665" width="1" height="7" fill="#c0c0c0"/><rect x="220" y="665" width="1" height="9" fill="#c0c0c0"/><rect x="228" y="665" width="1" height="13" fill="#c0c0c0"/><rect x="236" y="665" width="1" height="13" fill="#c0c0c0"/><rect x="244" y="665" width="1" height="13" fill="#c0c0c0"/><rect x="252" y="665" width="1" height="13" fill="#c0c0c0"/><rect x="260" y="665" width="1" height="14" fill="#c0c0c0"/><rect x="268" y="665" width="1" height="20" fill="#c0c0c0"/><rect x="276" y="665" width="1" height="21" fill="#c0c0c0"/><rect x="284" y="665" width="1" height="24" fill="#c0c0c0"/><rect x="292" y="665" width="1" height="30" fill="#c0c0c0"/><rect x="300" y="665" width="1" height="32" fill="#c0c0c0"/><rect x="308" y="665" width="1" height="34" fill="#c0c0c0"/><rect x="316" y="665" width="1" height="38" fill="#c0c0c0"/><rect x="324" y="665" width="1" height="41" fill="#c0c0c0"/><rect x="332" y="665" width="1" height="40" fill="#c0c0c0"/><rect x="340" y="665" width="1" height="38" fill="#c0c0c0"/><rect x="348" y="665" width="1" height="38" fill="#c0c0c0"/><rect x="356" y="665" width="1" height="37" fill="#c0c0c0"/><rect x="364" y="665" width="1" height="33" fill="#c0c0c0"/><rect x="372" y="665" width="1" height="32" fill="#c0c0c0"/><rect x="380" y="665" width="1" height="28" fill="#c0c0c0"/><rect x="388" y="665" width="1" height="28" fill="#c0c0c0"/><rect x="396" y="665" width="1" height="25" fill="#c0c0c0"/><rect x="404" y="665" width="1" height="22" fill="#c0c0c0"/><rect x="412" y="665" width="1" height="19" fill="#c0c0c0"/><rect x="420" y="665" width="1" height="18" fill="#c0c0c0"/><rect x="428" y="665" width="1" height="17" fill="#c0c0c0"/><rect x="436" y="665" width="1" height="16" fill="#c0c0c0"/><rect x="444" y="665" width="1" height="14" fill="#c0c0c0"/><rect x="452" y="665" width="1" height="9" fill="#c0c0c0"/><rect x="460" y="665" width="1" height="3" fill="#c0c0c0"/><rect x="468" y="660" width="1" height="5" fill="#c0c0c0"/><rect x="476" y="651" width="1" height="14" fill="#c0c0c0"/><rect x="484" y="645" width="1" height="20" fill="#c0c0c0"/><rect x="492" y="639" width="1" height="26" fill="#c0c0c0"/><rect x="500" y="629" width="1" height="36" fill="#c0c0c0"/><rect x="508" y="617" width="1" height="48" fill="#c0c0c0"/><rect x="516" y="610" width="1" height="55" fill="#c0c0c0"/><rect x="524" y="605" width="1" height="60" fill="#c0c0c0"/><rect x="532" y="602" width="1" height="63" fill="#c0c0c0"/><rect x="540" y="596" width="1" height="69" fill="#c0c0c0"/><rect x="548" y="592" width="1" height="73" fill="#c0c0c0"/><rect x="556" y="596" width="1" height="69" fill="#c0c0c0"/><rect x="564" y="600" width="1" height="65" fill="#c0c0c0"/><rect x="572" y="603" width="1" height="62" fill="#c0c0c0"/><rect x="580" y="602" width="1" height="63" fill="#c0c0c0"/><rect x="588" y="603" width="1" height="62" fill="#c0c0c0"/><rect x="596" y="604" width="1" height="61" fill="#c0c0c0"/><rect x="604" y="610" width="1" height="55" fill="#c0c0c0"/><rect x="612" y="618" width="1" height="47" fill="#c0c0c0"/><rect x="620" y="623" width="1" height="42" fill="#c0c0c0"/><rect x="628" y="630" width="1" height="35" fill="#c0c0c0"/><rect x="636" y="636" width="1" height="29" fill="#c0c0c0"/><rect x="644" y="646" width="1" height="19" fill="#c0c0c0"/><rect x="652" y="651" width="1" height="14" fill="#c0c0c0"/><rect x="660" y="657" width="1" height="8" fill="#c0c0c0"/><rect x="668" y="661" width="1" height="4" fill="#c0c0c0"/><rect x="676" y="663" width="1" height="2" fill="#c0c0c0"/><rect x="684" y="665" width="1" height="3" fill="#c0c0c0"/><rect x="692" y="665" width="1" height="10" fill="#c0c0c0"/><rect x="700" y="665" width="1" height="16" fill="#c0c0c0"/><rect x="708" y="665" width="1" height="20" fill="#c0c0c0"/><rect x="716" y="665" width="1" height="22" fill="#c0c0c0"/><rect x="724" y="665" width="1" height="24" fill="#c0c0c0"/><rect x="732" y="665" width="1" height="22" fill="#c0c0c0"/><rect x="740" y="665" width="1" height="17" fill="#c0c0c0"/><rect x="748" y="665" width="1" height="12" fill="#c0c0c0"/><rect x="756" y="665" width="1" height="7" fill="#c0c0c0"/><rect x="764" y="665" width="1" height="3" fill="#c0c0c0"/><rect x="772" y="665" width="1" height="1" fill="#c0c0c0"/><rect x="780" y="661" width="1" height="4" fill="#c0c0c0"/><rect x="788" y="660" width="1" height="5" fill="#c0c0c0"/><rect x="796" y="654" width="1" height="11" fill="#c0c0c0"/><rect x="804" y="650" width="1" height="15" fill="#c0c0c0"/><rect x="812" y="647" width="1" height="18" fill="#c0c0c0"/><rect x="820" y="644" width="1" height="21" fill="#c0c0c0"/><rect x="828" y="642" width="1" height="23" fill="#c0c0c0"/><rect x="836" y="646" width="1" height="19" fill="#c0c0c0"/><rect x="844" y="647" width="1" height="18" fill="#c0c0c0"/><rect x="852" y="648" width="1" height="17" fill="#c0c0c0"/><rect x="860" y="649" width="1" height="16" fill="#c0c0c0"/><rect x="868" y="646" width="1" height="19" fill="#c0c0c0"/><rect x="876" y="642" width="1" height="23" fill="#c0c0c0"/><rect x="884" y="642" width="1" height="23" fill="#c0c0c0"/><rect x="892" y="637" width="1" height="28" fill="#c0c0c0"/><rect x="900" y="635" width="1" height="30" fill="#c0c0c0"/><rect x="908" y="634" width="1" height="31" fill="#c0c0c0"/><rect x="916" y="635" width="1" height="30" fill="#c0c0c0"/><rect x="924" y="636" width="1" height="29" fill="#c0c0c0"/><rect x="932" y="637" width="1" height="28" fill="#c0c0c0"/><rect x="940" y="638" width="1" height="27" fill="#c0c0c0"/><rect x="948" y="638" width="1" height="27" fill="#c0c0c0"/><rect x="956" y="637" width="1" height="28" fill="#c0c0c0"/><rect x="964" y="638" width="1" height="27" fill="#c0c0c0"/><rect x="972" y="638" width="1" height="27" fill="#c0c0c0"/><rect x="980" y="634" width="1" height="31" fill="#c0c0c0"/><rect x="988" y="630" width="1" height="35" fill="#c0c0c0"/><rect x="996" y="628" width="1" height="37" fill="#c0c0c0"/><rect x="1004" y="625" width="1" height="40" fill="#c0c0c0"/><rect x="1012" y="621" width="1" height="44" fill="#c0c0c0"/><rect x="1020" y="621" width="1" height="44" fill="#c0c0c0"/><rect x="1028" y="621" width="1" height="44" fill="#c0c0c0"/><rect x="1036" y="624" width="1" height="41" fill="#c0c0c0"/><rect x="1044" y="636" width="1" height="29" fill="#c0c0c0"/><rect x="1052" y="640" width="1" height="25" fill="#c0c0c0"/><rect x="1060" y="645" width="1" height="20" fill="#c0c0c0"/><rect x="1068" y="651" width="1" height="14" fill="#c0c0c0"/><rect x="1076" y="659" width="1" height="6" fill="#c0c0c0"/><rect x="1084" y="659" width="1" height="6" fill="#c0c0c0"/><rect x="1092" y="658" width="1" height="7" fill="#c0c0c0"/><rect x="1100" y="660" width="1" height="5" fill="#c0c0c0"/><rect x="1108" y="662" width="1" height="3" fill="#c0c0c0"/><rect x="1116" y="665" width="1" height="1" fill="#c0c0c0"/><rect x="1124" y="664" width="1" height="1" fill="#c0c0c0"/><rect x="1132" y="661" width="1" height="4" fill="#c0c0c0"/><rect x="1140" y="660" width="1" height="5" fill="#c0c0c0"/><rect x="1148" y="660" width="1" height="5" fill="#c0c0c0"/><rect x="1156" y="659" width="1" height="6" fill="#c0c0c0"/><rect x="1164" y="659" width="1" height="6" fill="#c0c0c0"/><rect x="1172" y="658" width="1" height="7" fill="#c0c0c0"/><rect x="1180" y="662" width="1" height="3" fill="#c0c0c0"/><rect x="1188" y="665" width="1" height="1" fill="#c0c0c0"/><rect x="1196" y="665" width="1" height="2" fill="#c0c0c0"/><rect x="1204" y="665" width="1" height="7" fill="#c0c0c0"/><rect x="1212" y="665" width="1" height="10" fill="#c0c0c0"/><rect x="1220" y="665" width="1" height="15" fill="#c0c0c0"/><rect x="1228" y="665" width="1" height="20" fill="#c0c0c0"/><rect x="1236" y="665" width="1" height="25" fill="#c0c0c0"/><rect x="1244" y="665" width="1" height="29" fill="#c0c0c0"/><rect x="1252" y="665" width="1" height="28" fill="#c0c0c0"/><rect x="1260" y="665" width="1" height="27" fill="#c0c0c0"/><rect x="1268" y="665" width="1" height="25" fill="#c0c0c0"/><rect x="1276" y="665" width="1" height="23" fill="#c0c0c0"/><rect x="1284" y="665" width="1" height="23" fill="#c0c0c0"/><rect x="1292" y="665" width="1" height="24" fill="#c0c0c0"/><rect x="1300" y="665" width="1" height="25" fill="#c0c0c0"/><rect x="1308" y="665" width="1" height="26" fill="#c0c0c0"/><rect x="1316" y="665" width="1" height="27" fill="#c0c0c0"/><rect x="1324" y="665" width="1" height="28" fill="#c0c0c0"/><rect x="1332" y="665" width="1" height="29" fill="#c0c0c0"/><rect x="1340" y="665" width="1" height="33" fill="#c0c0c0"/><rect x="1348" y="665" width="1" height="35" fill="#c0c0c0"/><rect x="1356" y="665" width="1" height="34" fill="#c0c0c0"/><rect x="1364" y="665" width="1" height="28" fill="#c0c0c0"/><rect x="1372" y="665" width="1" height="24" fill="#c0c0c0"/><rect x="1380" y="665" width="1" height="20" fill="#c0c0c0"/><rect x="1388" y="665" width="1" height="16" fill="#c0c0c0"/><rect x="1396" y="665" width="1" height="14" fill="#c0c0c0"/><rect x="1404" y="665" width="1" height="11" fill="#c0c0c0"/><rect x="1412" y="665" width="1" height="9" fill="#c0c0c0"/><rect x="1420" y="665" width="1" height="8" fill="#c0c0c0"/><rect x="1428" y="665" width="1" height="7" fill="#c0c0c0"/><rect x="1436" y="665" width="1" height="6" fill="#c0c0c0"/></g><path d="M-4.0,688.0 L4.0,690.0 L12.0,693.9 L20.0,697.7 L28.0,701.5 L36.0,705.4 L44.0,711.0 L52.0,716.5 L60.0,722.1 L68.0,727.4 L76.0,731.4 L84.0,734.2 L92.0,735.9 L100.0,735.9 L108.0,734.6 L116.0,732.2 L124.0,728.1 L132.0,722.9 L140.0,717.0 L148.0,709.9 L156.0,702.6 L164.0,695.8 L172.0,690.0 L180.0,684.7 L188.0,680.3 L196.0,676.7 L204.0,674.1 L212.0,672.0 L220.0,671.4 L228.0,671.8 L236.0,672.6 L244.0,673.5 L252.0,674.4 L260.0,675.5 L268.0,677.1 L276.0,678.7 L284.0,680.5 L292.0,682.8 L300.0,685.0 L308.0,687.3 L316.0,690.0 L324.0,693.1 L332.0,696.0 L340.0,698.1 L348.0,700.0 L356.0,701.4 L364.0,701.8 L372.0,701.8 L380.0,701.1 L388.0,700.0 L396.0,698.3 L404.0,696.2 L412.0,694.1 L420.0,691.9 L428.0,689.7 L436.0,687.8 L444.0,685.7 L452.0,683.6 L460.0,680.8 L468.0,677.4 L476.0,673.5 L484.0,669.1 L492.0,664.3 L500.0,658.4 L508.0,651.3 L516.0,643.7 L524.0,636.1 L532.0,628.8 L540.0,621.6 L548.0,615.0 L556.0,609.6 L564.0,605.2 L572.0,602.3 L580.0,600.7 L588.0,599.9 L596.0,599.7 L604.0,600.6 L612.0,603.0 L620.0,606.5 L628.0,610.3 L636.0,614.3 L644.0,619.0 L652.0,624.5 L660.0,630.4 L668.0,636.7 L676.0,642.7 L684.0,648.3 L692.0,654.1 L700.0,659.7 L708.0,665.1 L716.0,669.8 L724.0,674.0 L732.0,677.3 L740.0,679.7 L748.0,681.2 L756.0,681.6 L764.0,680.8 L772.0,679.1 L780.0,676.4 L788.0,673.4 L796.0,669.6 L804.0,665.4 L812.0,661.5 L820.0,657.8 L828.0,654.5 L836.0,652.0 L844.0,650.0 L852.0,648.6 L860.0,647.4 L868.0,646.5 L876.0,645.7 L884.0,645.1 L892.0,644.4 L900.0,643.6 L908.0,642.3 L916.0,640.9 L924.0,639.6 L932.0,638.3 L940.0,637.4 L948.0,637.0 L956.0,636.5 L964.0,636.5 L972.0,636.8 L980.0,636.9 L988.0,636.4 L996.0,635.5 L1004.0,634.1 L1012.0,632.3 L1020.0,630.4 L1028.0,628.6 L1036.0,627.1 L1044.0,626.9 L1052.0,627.5 L1060.0,629.2 L1068.0,631.7 L1076.0,635.5 L1084.0,639.7 L1092.0,643.9 L1100.0,648.1 L1108.0,652.4 L1116.0,655.7 L1124.0,658.3 L1132.0,660.1 L1140.0,661.1 L1148.0,661.2 L1156.0,661.2 L1164.0,661.2 L1172.0,661.1 L1180.0,661.0 L1188.0,660.9 L1196.0,661.3 L1204.0,662.6 L1212.0,664.1 L1220.0,666.3 L1228.0,669.2 L1236.0,672.6 L1244.0,676.6 L1252.0,680.0 L1260.0,683.0 L1268.0,685.5 L1276.0,687.3 L1284.0,688.7 L1292.0,689.8 L1300.0,690.4 L1308.0,690.5 L1316.0,690.2 L1324.0,690.2 L1332.0,690.5 L1340.0,691.4 L1348.0,692.6 L1356.0,693.9 L1364.0,694.3 L1372.0,694.2 L1380.0,693.5 L1388.0,692.3 L1396.0,690.7 L1404.0,688.7 L1412.0,686.1 L1420.0,683.1 L1428.0,680.1 L1436.0,677.7" fill="none" stroke="#ff0000" stroke-width="1" stroke-dasharray="3,2" shape-rendering="crispEdges"/><path d="M-4.0,869.2 L4.0,872.2 L12.0,875.5 L20.0,870.1 L28.0,879.5 L36.0,880.7 L44.0,877.7 L52.0,886.0 L60.0,882.0 L68.0,877.0 L76.0,879.3 L84.0,860.9 L92.0,853.5 L100.0,848.6 L108.0,849.6 L116.0,846.2 L124.0,840.5 L132.0,841.8 L140.0,842.4 L148.0,825.8 L156.0,831.0 L164.0,839.5 L172.0,845.5 L180.0,842.5 L188.0,845.1 L196.0,845.5 L204.0,851.7 L212.0,847.1 L220.0,854.1 L228.0,858.8 L236.0,852.1 L244.0,850.0 L252.0,849.8 L260.0,855.4 L268.0,867.8 L276.0,856.0 L284.0,863.1 L292.0,871.2 L300.0,864.5 L308.0,865.2 L316.0,871.1 L324.0,871.4 L332.0,862.8 L340.0,858.3 L348.0,863.0 L356.0,858.5 L364.0,850.8 L372.0,857.9 L380.0,844.9 L388.0,855.5 L396.0,849.6 L404.0,843.7 L412.0,846.5 L420.0,847.7 L428.0,849.2 L436.0,850.6 L444.0,843.3 L452.0,832.1 L460.0,826.3 L468.0,817.9 L476.0,811.3 L484.0,815.6 L492.0,811.9 L500.0,799.9 L508.0,795.0 L516.0,803.5 L524.0,802.5 L532.0,802.4 L540.0,795.7 L548.0,796.2 L556.0,823.8 L564.0,822.6 L572.0,821.2 L580.0,812.8 L588.0,818.4 L596.0,816.0 L604.0,831.1 L612.0,841.4 L620.0,836.3 L628.0,842.1 L636.0,844.0 L644.0,856.1 L652.0,848.5 L660.0,852.0 L668.0,850.3 L676.0,847.5 L684.0,854.4 L692.0,864.0 L700.0,862.2 L708.0,862.2 L716.0,862.2 L724.0,859.4 L732.0,849.8 L740.0,836.8 L748.0,834.3 L756.0,832.2 L764.0,831.0 L772.0,834.4 L780.0,825.1 L788.0,839.0 L796.0,822.3 L804.0,823.0 L812.0,825.4 L820.0,822.2 L828.0,825.2 L836.0,842.4 L844.0,837.3 L852.0,836.6 L860.0,836.7 L868.0,824.0 L876.0,818.8 L884.0,829.2 L892.0,818.7 L900.0,821.8 L908.0,822.1 L916.0,830.3 L924.0,830.3 L932.0,828.5 L940.0,827.6 L948.0,826.6 L956.0,820.4 L964.0,825.0 L972.0,822.4 L980.0,812.2 L988.0,807.3 L996.0,810.6 L1004.0,805.2 L1012.0,802.5 L1020.0,812.9 L1028.0,814.0 L1036.0,824.1 L1044.0,858.7 L1052.0,842.1 L1060.0,845.7 L1068.0,849.7 L1076.0,858.4 L1084.0,840.8 L1092.0,837.8 L1100.0,842.9 L1108.0,847.4 L1116.0,850.3 L1124.0,837.4 L1132.0,834.4 L1140.0,839.2 L1148.0,839.0 L1156.0,836.4 L1164.0,839.4 L1172.0,837.3 L1180.0,849.5 L1188.0,851.1 L1196.0,851.2 L1204.0,860.8 L1212.0,853.5 L1220.0,863.1 L1228.0,866.6 L1236.0,869.7 L1244.0,870.2 L1252.0,853.2 L1260.0,853.7 L1268.0,851.1 L1276.0,851.8 L1284.0,855.6 L1292.0,861.1 L1300.0,862.0 L1308.0,863.3 L1316.0,865.9 L1324.0,867.4 L1332.0,871.0 L1340.0,878.4 L1348.0,878.4 L1356.0,865.0 L1364.0,841.0 L1372.0,842.0 L1380.0,841.1 L1388.0,839.3 L1396.0,844.3 L1404.0,841.3 L1412.0,839.2 L1420.0,844.3 L1428.0,847.0 L1436.0,844.6" fill="none" stroke="#1e90ff" stroke-width="1" shape-rendering="crispEdges"/><rect x="917.5" y="48.5" width="61" height="18" fill="none" stroke="#ff0000" stroke-width="1"/><line x1="979" y1="57.5" x2="989" y2="57.5" stroke="#ff0000" stroke-width="1"/><text x="920" y="64" font-family='"Liberation Sans", sans-serif' font-size="17" fill="#ff0000" textLength="56.5" lengthAdjust="spacingAndGlyphs">116.327</text><rect x="477.5" y="164.5" width="61" height="18" fill="none" stroke="#ff0000" stroke-width="1"/><line x1="539" y1="173.5" x2="549" y2="173.5" stroke="#ff0000" stroke-width="1"/><text x="480" y="180" font-family='"Liberation Sans", sans-serif' font-size="17" fill="#ff0000" textLength="56.5" lengthAdjust="spacingAndGlyphs">115.675</text><rect x="1301.5" y="242.5" width="60" height="18" fill="none" stroke="#ff0000" stroke-width="1"/><line x1="1362" y1="251.5" x2="1372" y2="251.5" stroke="#ff0000" stroke-width="1"/><text x="1304" y="258" font-family='"Liberation Sans", sans-serif' font-size="17" fill="#ff0000" textLength="55.5" lengthAdjust="spacingAndGlyphs">115.237</text><rect x="1269.5" y="376.5" width="61" height="18" fill="none" stroke="#ff0000" stroke-width="1"/><line x1="1331" y1="385.5" x2="1341" y2="385.5" stroke="#ff0000" stroke-width="1"/><text x="1272" y="392" font-family='"Liberation Sans", sans-serif' font-size="17" fill="#ff0000" textLength="56.5" lengthAdjust="spacingAndGlyphs">114.487</text><line x1="1125" y1="299.5" x2="1135" y2="299.5" stroke="#ff0000" stroke-width="1"/><rect x="1135.5" y="287.5" width="73" height="24" fill="#fff" stroke="#ff0000" stroke-width="1"/><text x="1137.5" y="308" font-family='"Liberation Sans", sans-serif' font-size="22.5" fill="#ff0000" textLength="70.5" lengthAdjust="spacingAndGlyphs">114.969</text><rect x="1327" y="296" width="156" height="9" fill="#00ff00"/><g clip-path="url(#mc)"><line x1="1157" y1="160" x2="1343" y2="379" stroke="#00ff00" stroke-width="3"/><line x1="1345" y1="385" x2="1363" y2="266" stroke="#00ff00" stroke-width="3"/><line x1="1374" y1="263" x2="1430" y2="305" stroke="#00ff00" stroke-width="3"/><line x1="1433" y1="305" x2="1474" y2="285" stroke="#00ff00" stroke-width="3"/><polyline points="1363,268 1370,259" stroke="#00ff00" stroke-width="3"/><line x1="1155.5" y1="162" x2="1340" y2="380" stroke="#ff0000" stroke-width="4"/><polyline points="1329.1,375.0 1340,380 1336.8,368.4" fill="none" stroke="#ff0000" stroke-width="4" stroke-linejoin="miter" stroke-miterlimit="10"/><line x1="1342" y1="382" x2="1372" y2="259" stroke="#ff0000" stroke-width="4"/><polyline points="1374.3,270.8 1372,259 1364.5,268.4" fill="none" stroke="#ff0000" stroke-width="4" stroke-linejoin="miter" stroke-miterlimit="10"/><line x1="1372" y1="259" x2="1432" y2="302" stroke="#ff0000" stroke-width="4"/><polyline points="1420.2,299.8 1432,302 1426.1,291.5" fill="none" stroke="#ff0000" stroke-width="4" stroke-linejoin="miter" stroke-miterlimit="10"/><line x1="1432" y1="302" x2="1473" y2="289" stroke="#ff0000" stroke-width="4"/><polyline points="1464.2,297.1 1473,289 1461.1,287.5" fill="none" stroke="#ff0000" stroke-width="4" stroke-linejoin="miter" stroke-miterlimit="10"/></g><line x1="1348" y1="696" x2="1444" y2="672.5" stroke="#ff0000" stroke-width="3"/><polyline points="1434.3,679.5 1444,672.5 1432.1,670.8" fill="none" stroke="#ff0000" stroke-width="3" stroke-linejoin="miter" stroke-miterlimit="10"/><line x1="1369" y1="844" x2="1450" y2="841" stroke="#ff0000" stroke-width="3"/><polyline points="1439.0,845.9 1450,841 1438.7,836.9" fill="none" stroke="#ff0000" stroke-width="3" stroke-linejoin="miter" stroke-miterlimit="10"/><rect x="0" y="28" width="1648" height="1" fill="#000"/><rect x="0" y="581" width="1648" height="1" fill="#000"/><rect x="0" y="583" width="1648" height="1" fill="#000"/><rect x="0" y="753" width="1648" height="1" fill="#000"/><rect x="0" y="755" width="1648" height="1" fill="#000"/><rect x="0" y="929" width="1648" height="1" fill="#000"/><rect x="1647" y="28" width="1" height="554" fill="#000"/><rect x="1647" y="583" width="1" height="171" fill="#000"/><rect x="1647" y="755" width="1" height="175" fill="#000"/><rect x="1648" y="585" width="2" height="1" fill="#000"/><rect x="1648" y="665" width="2" height="1" fill="#000"/><rect x="1648" y="752" width="2" height="1" fill="#000"/><rect x="1648" y="757" width="2" height="1" fill="#000"/><rect x="1648" y="790" width="2" height="1" fill="#000"/><rect x="1648" y="842" width="2" height="1" fill="#000"/><rect x="1648" y="903" width="2" height="1" fill="#000"/><rect x="1648" y="928" width="2" height="1" fill="#000"/><rect x="1693" y="25" width="1" height="916" fill="#e0e0e0"/><polygon points="1442,29 1451,29 1446.5,34" fill="#c0c0c0"/><rect x="1648" y="50" width="3" height="1" fill="#000"/><text x="1653" y="54" font-family='"Liberation Sans", sans-serif' font-size="9.3" fill="#000">116.365</text><rect x="1648" y="83" width="3" height="1" fill="#000"/><text x="1653" y="87" font-family='"Liberation Sans", sans-serif' font-size="9.3" fill="#000">116.180</text><rect x="1648" y="116" width="3" height="1" fill="#000"/><text x="1653" y="120" font-family='"Liberation Sans", sans-serif' font-size="9.3" fill="#000">115.995</text><rect x="1648" y="149" width="3" height="1" fill="#000"/><text x="1653" y="153" font-family='"Liberation Sans", sans-serif' font-size="9.3" fill="#000">115.810</text><rect x="1648" y="182" width="3" height="1" fill="#000"/><text x="1653" y="186" font-family='"Liberation Sans", sans-serif' font-size="9.3" fill="#000">115.625</text><rect x="1648" y="281" width="3" height="1" fill="#000"/><text x="1653" y="285" font-family='"Liberation Sans", sans-serif' font-size="9.3" fill="#000">115.070</text><rect x="1648" y="314" width="3" height="1" fill="#000"/><text x="1653" y="318" font-family='"Liberation Sans", sans-serif' font-size="9.3" fill="#000">114.885</text><rect x="1648" y="347" width="3" height="1" fill="#000"/><text x="1653" y="351" font-family='"Liberation Sans", sans-serif' font-size="9.3" fill="#000">114.700</text><rect x="1648" y="380" width="3" height="1" fill="#000"/><text x="1653" y="384" font-family='"Liberation Sans", sans-serif' font-size="9.3" fill="#000">114.515</text><rect x="1648" y="413" width="3" height="1" fill="#000"/><text x="1653" y="417" font-family='"Liberation Sans", sans-serif' font-size="9.3" fill="#000">114.330</text><rect x="1648" y="446" width="3" height="1" fill="#000"/><text x="1653" y="450" font-family='"Liberation Sans", sans-serif' font-size="9.3" fill="#000">114.145</text><rect x="1648" y="479" width="3" height="1" fill="#000"/><text x="1653" y="483" font-family='"Liberation Sans", sans-serif' font-size="9.3" fill="#000">113.960</text><rect x="1648" y="512" width="3" height="1" fill="#000"/><text x="1653" y="516" font-family='"Liberation Sans", sans-serif' font-size="9.3" fill="#000">113.775</text><rect x="1648" y="545" width="3" height="1" fill="#000"/><text x="1653" y="549" font-family='"Liberation Sans", sans-serif' font-size="9.3" fill="#000">113.590</text><rect x="1648" y="578" width="3" height="1" fill="#000"/><text x="1653" y="582" font-family='"Liberation Sans", sans-serif' font-size="9.3" fill="#000">113.405</text><rect x="1649" y="208" width="41" height="11" fill="#ff0000"/><text x="1653" y="218" font-family='"Liberation Sans", sans-serif' font-size="9.3" fill="#fff">115.444</text><rect x="1649" y="240" width="41" height="11" fill="#ff0000"/><text x="1653" y="250" font-family='"Liberation Sans", sans-serif' font-size="9.3" fill="#fff">115.265</text><rect x="1649" y="285" width="41" height="11" fill="#000"/><text x="1653" y="295" font-family='"Liberation Sans", sans-serif' font-size="9.3" fill="#fff">115.012</text><rect x="1649" y="293" width="41" height="11" fill="#32c832"/><text x="1653" y="303" font-family='"Liberation Sans", sans-serif' font-size="9.3" fill="#fff">114.969</text><rect x="1649" y="322" width="41" height="11" fill="#0000ff"/><text x="1653" y="332" font-family='"Liberation Sans", sans-serif' font-size="9.3" fill="#fff">114.806</text><rect x="1649" y="353" width="41" height="11" fill="#0000ff"/><text x="1653" y="363" font-family='"Liberation Sans", sans-serif' font-size="9.3" fill="#fff">114.633</text><text x="1651" y="594" font-family='"Liberation Sans", sans-serif' font-size="9.3" fill="#000">0.4405</text><text x="1651" y="669" font-family='"Liberation Sans", sans-serif' font-size="9.3" fill="#000">0.00</text><text x="1651" y="750" font-family='"Liberation Sans", sans-serif' font-size="9.3" fill="#000">-0.4773</text><text x="1651" y="766" font-family='"Liberation Sans", sans-serif' font-size="9.3" fill="#000">100</text><text x="1651" y="795" font-family='"Liberation Sans", sans-serif' font-size="9.3" fill="#000">80</text><text x="1651" y="846" font-family='"Liberation Sans", sans-serif' font-size="9.3" fill="#000">50</text><text x="1651" y="907" font-family='"Liberation Sans", sans-serif' font-size="9.3" fill="#000">15</text><text x="1651" y="925" font-family='"Liberation Sans", sans-serif' font-size="9.3" fill="#000">0</text><text x="-14" y="941.5" font-family='"Liberation Sans", sans-serif' font-size="9.3" fill="#000" transform="translate(-14,0) scale(0.985,1) translate(14,0)">13 Jan 2022</text><rect x="52" y="929" width="1" height="4" fill="#000"/><text x="52" y="941.5" font-family='"Liberation Sans", sans-serif' font-size="9.3" fill="#000" transform="translate(52,0) scale(0.985,1) translate(-52,0)">14 Jan 00:00</text><rect x="116" y="929" width="1" height="4" fill="#000"/><text x="116" y="941.5" font-family='"Liberation Sans", sans-serif' font-size="9.3" fill="#000" transform="translate(116,0) scale(0.985,1) translate(-116,0)">17 Jan 08:00</text><rect x="180" y="929" width="1" height="4" fill="#000"/><text x="180" y="941.5" font-family='"Liberation Sans", sans-serif' font-size="9.3" fill="#000" transform="translate(180,0) scale(0.985,1) translate(-180,0)">18 Jan 16:00</text><rect x="244" y="929" width="1" height="4" fill="#000"/><text x="244" y="941.5" font-family='"Liberation Sans", sans-serif' font-size="9.3" fill="#000" transform="translate(244,0) scale(0.985,1) translate(-244,0)">20 Jan 00:00</text><rect x="308" y="929" width="1" height="4" fill="#000"/><text x="308" y="941.5" font-family='"Liberation Sans", sans-serif' font-size="9.3" fill="#000" transform="translate(308,0) scale(0.985,1) translate(-308,0)">21 Jan 08:00</text><rect x="372" y="929" width="1" height="4" fill="#000"/><text x="372" y="941.5" font-family='"Liberation Sans", sans-serif' font-size="9.3" fill="#000" transform="translate(372,0) scale(0.985,1) translate(-372,0)">24 Jan 16:00</text><rect x="436" y="929" width="1" height="4" fill="#000"/><text x="436" y="941.5" font-family='"Liberation Sans", sans-serif' font-size="9.3" fill="#000" transform="translate(436,0) scale(0.985,1) translate(-436,0)">26 Jan 00:00</text><rect x="500" y="929" width="1" height="4" fill="#000"/><text x="500" y="941.5" font-family='"Liberation Sans", sans-serif' font-size="9.3" fill="#000" transform="translate(500,0) scale(0.985,1) translate(-500,0)">27 Jan 08:00</text><rect x="564" y="929" width="1" height="4" fill="#000"/><text x="564" y="941.5" font-family='"Liberation Sans", sans-serif' font-size="9.3" fill="#000" transform="translate(564,0) scale(0.985,1) translate(-564,0)">28 Jan 16:00</text><rect x="628" y="929" width="1" height="4" fill="#000"/><text x="628" y="941.5" font-family='"Liberation Sans", sans-serif' font-size="9.3" fill="#000" transform="translate(628,0) scale(0.985,1) translate(-628,0)">1 Feb 00:00</text><rect x="692" y="929" width="1" height="4" fill="#000"/><text x="692" y="941.5" font-family='"Liberation Sans", sans-serif' font-size="9.3" fill="#000" transform="translate(692,0) scale(0.985,1) translate(-692,0)">2 Feb 08:00</text><rect x="756" y="929" width="1" height="4" fill="#000"/><text x="756" y="941.5" font-family='"Liberation Sans", sans-serif' font-size="9.3" fill="#000" transform="translate(756,0) scale(0.985,1) translate(-756,0)">3 Feb 16:00</text><rect x="820" y="929" width="1" height="4" fill="#000"/><text x="820" y="941.5" font-family='"Liberation Sans", sans-serif' font-size="9.3" fill="#000" transform="translate(820,0) scale(0.985,1) translate(-820,0)">7 Feb 00:00</text><rect x="884" y="929" width="1" height="4" fill="#000"/><text x="884" y="941.5" font-family='"Liberation Sans", sans-serif' font-size="9.3" fill="#000" transform="translate(884,0) scale(0.985,1) translate(-884,0)">8 Feb 08:00</text><rect x="948" y="929" width="1" height="4" fill="#000"/><text x="948" y="941.5" font-family='"Liberation Sans", sans-serif' font-size="9.3" fill="#000" transform="translate(948,0) scale(0.985,1) translate(-948,0)">9 Feb 16:00</text><rect x="1012" y="929" width="1" height="4" fill="#000"/><text x="1012" y="941.5" font-family='"Liberation Sans", sans-serif' font-size="9.3" fill="#000" transform="translate(1012,0) scale(0.985,1) translate(-1012,0)">11 Feb 00:00</text><rect x="1076" y="929" width="1" height="4" fill="#000"/><text x="1076" y="941.5" font-family='"Liberation Sans", sans-serif' font-size="9.3" fill="#000" transform="translate(1076,0) scale(0.985,1) translate(-1076,0)">14 Feb 08:00</text><rect x="1140" y="929" width="1" height="4" fill="#000"/><text x="1140" y="941.5" font-family='"Liberation Sans", sans-serif' font-size="9.3" fill="#000" transform="translate(1140,0) scale(0.985,1) translate(-1140,0)">15 Feb 16:00</text><rect x="1204" y="929" width="1" height="4" fill="#000"/><text x="1204" y="941.5" font-family='"Liberation Sans", sans-serif' font-size="9.3" fill="#000" transform="translate(1204,0) scale(0.985,1) translate(-1204,0)">17 Feb 00:00</text><rect x="1268" y="929" width="1" height="4" fill="#000"/><text x="1268" y="941.5" font-family='"Liberation Sans", sans-serif' font-size="9.3" fill="#000" transform="translate(1268,0) scale(0.985,1) translate(-1268,0)">18 Feb 08:00</text><rect x="1332" y="929" width="1" height="4" fill="#000"/><text x="1332" y="941.5" font-family='"Liberation Sans", sans-serif' font-size="9.3" fill="#000" transform="translate(1332,0) scale(0.985,1) translate(-1332,0)">21 Feb 16:00</text><rect x="1396" y="929" width="1" height="4" fill="#000"/><text x="1396" y="941.5" font-family='"Liberation Sans", sans-serif' font-size="9.3" fill="#000" transform="translate(1396,0) scale(0.985,1) translate(-1396,0)">23 Feb 00:00</text><text x="3" y="40" font-family='"Liberation Sans", sans-serif' font-size="9.3" fill="#000" textLength="201" lengthAdjust="spacingAndGlyphs" xml:space="preserve">USDJPY-,H4  114.962 115.017 114.919 115.012</text><text x="1" y="596" font-family='"Liberation Sans", sans-serif' font-size="9.3" fill="#000" textLength="125" lengthAdjust="spacingAndGlyphs">ACD(12,26,9) -0.0370 -0.0687</text><text x="-1.5" y="767" font-family='"Liberation Sans", sans-serif' font-size="9.3" fill="#000" textLength="62" lengthAdjust="spacingAndGlyphs">SI(14) 48.7673</text></svg>
<div class="tb"><svg width="1694" height="24" style="position:absolute;left:0;top:0" font-family="Liberation Sans, sans-serif">
<defs>
<linearGradient id="gpress" x1="0" y1="0" x2="0" y2="1"><stop offset="0" stop-color="#f7f7f7"/><stop offset="1" stop-color="#ececec"/></linearGradient>
<linearGradient id="gbook" x1="0" y1="0" x2="1" y2="1"><stop offset="0" stop-color="#f6e08a"/><stop offset="1" stop-color="#b98a20"/></linearGradient>
<linearGradient id="gblue" x1="0" y1="0" x2="0" y2="1"><stop offset="0" stop-color="#7fc0f0"/><stop offset="1" stop-color="#2a6fc0"/></linearGradient>
</defs>
<!-- left fragment -->
<rect x="0" y="16" width="2" height="4" fill="#d8a040"/>
<rect x="8" y="2" width="1" height="19" fill="#a8a8a8"/><rect x="9" y="2" width="1" height="19" fill="#fff"/>
<!-- new order icon -->
<path d="M18.5,4.5 h8 l3,3 v10 h-11 z" fill="#fff" stroke="#707070"/>
<path d="M20.5,8.5h6M20.5,10.5h6M20.5,12.5h4" stroke="#909090"/>
<path d="M25,13h3v-3h3v3h3v3h-3v3h-3v-3h-3z" fill="#20c020" stroke="#108010" stroke-width="0.8"/>
<text x="37" y="15" font-size="12" fill="#000" textLength="65" lengthAdjust="spacingAndGlyphs">New Order</text>
<!-- book -->
<path d="M114.5,13.5 L120,5 L129.5,12.5 L122.5,19.5 Z" fill="url(#gbook)" stroke="#a87812" stroke-width="0.9"/>
<path d="M116.5,13.5 L121,7 L127,11.5" fill="none" stroke="#fff2a0" stroke-width="1"/>
<!-- cloud / market -->
<rect x="144" y="4" width="11" height="10" fill="url(#gblue)" stroke="#2a70d0" stroke-width="0.8"/>
<path d="M148,7h5M148,9h5" stroke="#fff" stroke-width="0.8"/>
<path d="M142.5,19 q-1,-4 3,-4 q1,-3 5,-2.5 q3,-1 4.5,2 q3,0 3,3 q0,1.5 -1,1.5 z" fill="#eef2fa" stroke="#5a70a0" stroke-width="0.9"/>
<!-- signals -->
<circle cx="178" cy="11.7" r="7.5" fill="none" stroke="#7aa0d8" stroke-width="1.1"/>
<circle cx="178" cy="11.7" r="4.6" fill="none" stroke="#5a8ad0" stroke-width="1.1"/>
<path d="M178,11.7 m5,5 a7.5,7.5 0 0 0 2,-8" stroke="#50a050" stroke-width="1.2" fill="none"/>
<circle cx="178" cy="11.7" r="1.6" fill="#2a60c0"/>
<path d="M178,12 v7.5 l3,-1" stroke="#30a030" stroke-width="1.3" fill="none"/>
<!-- autotrading -->
<path d="M198,11 h14 l-6.5,8.5 z" fill="#f2d050" stroke="#c8a030" stroke-width="0.6"/>
<ellipse cx="205" cy="8" rx="8" ry="3" fill="#60a8e0" stroke="#3a80c0" stroke-width="0.6"/>
<ellipse cx="205" cy="6" rx="4" ry="2.5" fill="#70b8f0"/>
<circle cx="209.6" cy="15.6" r="4.3" fill="#e02818"/><rect x="208" y="14" width="3.2" height="3.2" fill="#fff"/>
<text x="218" y="15" font-size="12" fill="#000" textLength="71" lengthAdjust="spacingAndGlyphs">AutoTrading</text>
<!-- grip -->
<rect x="297" y="0" width="1" height="23" fill="#c8c8c8"/>
<rect x="301" y="3" width="3" height="1" fill="#a0a0a0"/><rect x="301" y="5" width="3" height="1" fill="#a0a0a0"/><rect x="301" y="7" width="3" height="1" fill="#a0a0a0"/><rect x="301" y="9" width="3" height="1" fill="#a0a0a0"/><rect x="301" y="11" width="3" height="1" fill="#a0a0a0"/><rect x="301" y="13" width="3" height="1" fill="#a0a0a0"/><rect x="301" y="15" width="3" height="1" fill="#a0a0a0"/><rect x="301" y="17" width="3" height="1" fill="#a0a0a0"/><rect x="301" y="19" width="3" height="1" fill="#a0a0a0"/>
<!-- bar chart -->
<path d="M314.5,6v13M312,17.5h15" stroke="#505050" stroke-width="1.2"/><path d="M312.5,8l2,-3l2,3zM327,15.5l3,2l-3,2z" fill="#505050"/>
<path d="M320,15h1.5v-8h3" stroke="#20a020" stroke-width="1.5" fill="none"/>
<!-- candle pressed -->
<rect x="335" y="0" width="25" height="22" fill="#f8f8f8"/><rect x="335" y="0" width="1" height="22" fill="#c8c8c8"/><rect x="335" y="0" width="25" height="1" fill="#c8c8c8"/>
<path d="M343.5,6v13M341,17.5h15" stroke="#505050" stroke-width="1.2"/><path d="M341.5,8l2,-3l2,3zM356,15.5l3,2l-3,2z" fill="#505050"/>
<path d="M349.5,4v12" stroke="#107010"/><rect x="347.5" y="6" width="4" height="8" fill="#20c020" stroke="#107010" stroke-width="0.8"/>
<!-- line chart -->
<path d="M371.5,6v13M369,17.5h15" stroke="#505050" stroke-width="1.2"/><path d="M369.5,8l2,-3l2,3zM384,15.5l3,2l-3,2z" fill="#505050"/>
<path d="M370,15 q5,-7 8,-6 q3,1 5,4" stroke="#20a020" stroke-width="1.3" fill="none"/>
<rect x="392" y="1" width="1" height="21" fill="#a8a8a8"/>
<!-- zoom in/out -->
<path d="M410,14 l5,5" stroke="#c8a020" stroke-width="3"/>
<circle cx="407" cy="10.5" r="5.5" fill="#d8ecfa" stroke="#3070d0" stroke-width="1.5"/>
<path d="M404,10.5h6M407,7.5v6" stroke="#3070d0" stroke-width="1.6"/>
<path d="M438,14 l5,5" stroke="#c8a020" stroke-width="3"/>
<circle cx="435" cy="10.5" r="5.5" fill="#d8ecfa" stroke="#3070d0" stroke-width="1.5"/>
<path d="M432,10.5h6" stroke="#3070d0" stroke-width="1.6"/>
<!-- tile -->
<rect x="457" y="4" width="8" height="7.5" fill="#30a030"/><rect x="465" y="4" width="8" height="7.5" fill="#2a60d0"/>
<rect x="457" y="11.5" width="8" height="7.5" fill="#2a60d0"/><rect x="465" y="11.5" width="8" height="7.5" fill="#30a030"/>
<path d="M459,8h4M467,8h4M459,15h4M467,15h4" stroke="#fff"/>
<rect x="481" y="1" width="1" height="21" fill="#a8a8a8"/>
<rect x="484" y="3" width="2" height="1" fill="#a0a0a0"/><rect x="484" y="5" width="2" height="1" fill="#a0a0a0"/><rect x="484" y="7" width="2" height="1" fill="#a0a0a0"/><rect x="484" y="9" width="2" height="1" fill="#a0a0a0"/><rect x="484" y="11" width="2" height="1" fill="#a0a0a0"/><rect x="484" y="13" width="2" height="1" fill="#a0a0a0"/><rect x="484" y="15" width="2" height="1" fill="#a0a0a0"/><rect x="484" y="17" width="2" height="1" fill="#a0a0a0"/><rect x="484" y="19" width="2" height="1" fill="#a0a0a0"/>
<!-- pressed auto scroll & shift -->
<rect x="488" y="0" width="24" height="22" fill="#f8f8f8"/><rect x="488" y="0" width="1" height="22" fill="#c8c8c8"/>
<path d="M493.5,6v13M491,18.5h15" stroke="#505050" stroke-width="1.2"/><path d="M499,8l5,3.5l-5,3.5z" fill="#20b020"/>
<rect x="515" y="0" width="25" height="22" fill="#f8f8f8"/><rect x="515" y="0" width="1" height="22" fill="#c8c8c8"/>
<path d="M521.5,6v13M519,18.5h15M525.5,6v13" stroke="#505050" stroke-width="1.2"/><path d="M533,11.5h-5M530,9.5l-2.5,2l2.5,2" stroke="#d02020" stroke-width="1.2" fill="none"/>
<rect x="544" y="1" width="1" height="21" fill="#a8a8a8"/>
<!-- indicators -->
<path d="M554.5,4.5h9l3,3v10h-12z" fill="#fff" stroke="#707070"/>
<path d="M561,13h3v-3h3v3h3v3h-3v3h-3v-3h-3z" fill="#20c020" stroke="#108010" stroke-width="0.8"/>
<path d="M575,11h6l-3,3z" fill="#202020"/>
<circle cx="599.5" cy="12" r="7.5" fill="url(#gblue)" stroke="#2050a0"/><circle cx="599.5" cy="12" r="5" fill="#fff"/><path d="M599.5,8.5v3.5h2.5" stroke="#203060" fill="none"/>
<path d="M614,11h6l-3,3z" fill="#202020"/>
<rect x="631.5" y="5.5" width="16" height="13" fill="#f4f8fc" stroke="#3a70c0"/><rect x="632" y="6" width="15" height="1.5" fill="#5a90d8"/><rect x="632" y="12" width="15" height="1" fill="#3a70c0"/><path d="M633,11l3,-1l3,0.5l3,-1l4,0" stroke="#c03020" fill="none"/><path d="M633,16l3,-1l3,0.5l3,-1.5l4,1" stroke="#30a030" fill="none"/>
<path d="M653,11h6l-3,3z" fill="#202020"/>
<rect x="664" y="1" width="1" height="21" fill="#a8a8a8"/>
<rect x="668" y="3" width="2" height="1" fill="#a0a0a0"/><rect x="668" y="5" width="2" height="1" fill="#a0a0a0"/><rect x="668" y="7" width="2" height="1" fill="#a0a0a0"/><rect x="668" y="9" width="2" height="1" fill="#a0a0a0"/><rect x="668" y="11" width="2" height="1" fill="#a0a0a0"/><rect x="668" y="13" width="2" height="1" fill="#a0a0a0"/><rect x="668" y="15" width="2" height="1" fill="#a0a0a0"/><rect x="668" y="17" width="2" height="1" fill="#a0a0a0"/><rect x="668" y="19" width="2" height="1" fill="#a0a0a0"/>
<rect x="675" y="0" width="25" height="22" fill="#f8f8f8"/><rect x="675" y="0" width="1" height="22" fill="#c8c8c8"/>
<path d="M684.5,5v12l3,-3l2.5,5l2,-1l-2.5,-5h4z" fill="#505050"/>
<path d="M715.5,5v6M715.5,14v5M708,12.5h6M717,12.5h6" stroke="#505050"/>
<rect x="733" y="1" width="1" height="21" fill="#a8a8a8"/>
<path d="M749.5,6v11" stroke="#505050" stroke-width="1.2"/>
<path d="M771,12.5h13" stroke="#505050" stroke-width="1.2"/>
<path d="M800,18l12,-11" stroke="#505050" stroke-width="1.2"/>
<path d="M827,17l10,-10M829,19l10,-10M831,15l3,3M834,12l3,3" stroke="#505050"/><text x="837" y="20" font-size="6" fill="#505050">E</text>
<path d="M855,6h15M855,9h15M855,12h15M855,15h10" stroke="#707070" stroke-dasharray="1,1"/><text x="865" y="20" font-size="6" fill="#505050">F</text>
<text x="885" y="17" font-size="11" fill="#505050">A</text>
<rect x="910.5" y="5.5" width="13" height="12" fill="none" stroke="#707070" stroke-dasharray="1,1"/><text x="913" y="16" font-size="10" font-weight="bold" fill="#505050">T</text>
<path d="M940,8l5,4l-1,-5zM953,16l-5,-4l1,5z" fill="#404040"/><path d="M943,9l6,6" stroke="#404040" stroke-width="1.5"/>
<path d="M959,11h6l-3,3z" fill="#202020"/>
<rect x="971" y="1" width="1" height="21" fill="#a8a8a8"/>
<rect x="975" y="3" width="2" height="1" fill="#a0a0a0"/><rect x="975" y="5" width="2" height="1" fill="#a0a0a0"/><rect x="975" y="7" width="2" height="1" fill="#a0a0a0"/><rect x="975" y="9" width="2" height="1" fill="#a0a0a0"/><rect x="975" y="11" width="2" height="1" fill="#a0a0a0"/><rect x="975" y="13" width="2" height="1" fill="#a0a0a0"/><rect x="975" y="15" width="2" height="1" fill="#a0a0a0"/><rect x="975" y="17" width="2" height="1" fill="#a0a0a0"/><rect x="975" y="19" width="2" height="1" fill="#a0a0a0"/>
<!-- timeframes -->
<rect x="1121" y="0" width="25" height="22" fill="#f6f6f6"/><rect x="1121" y="0" width="1" height="22" fill="#b8b8b8"/><rect x="1121" y="0" width="25" height="1" fill="#b8b8b8"/>
<g font-size="9.8" fill="#333">
<text x="986.5" y="16">M1</text><text x="1014" y="16">M5</text><text x="1040.5" y="16">M15</text><text x="1068" y="16">M30</text>
<text x="1099" y="16">H1</text><text x="1126.5" y="16">H4</text><text x="1155.5" y="16">D1</text><text x="1183" y="16">W1</text><text x="1209.5" y="16">MN</text>
</g>
<rect x="1232" y="1" width="1" height="21" fill="#a8a8a8"/>
<!-- search -->
<circle cx="1649.5" cy="9" r="4" fill="#fff" stroke="#2a5ad0" stroke-width="1.5"/>
<path d="M1646.5,12l-4.5,4.5" stroke="#2a5ad0" stroke-width="2.2"/>
<!-- notification -->
<ellipse cx="1673" cy="14.5" rx="6.5" ry="5" fill="#e4e4ea" stroke="#b0b0b8"/>
<circle cx="1680.5" cy="9.5" r="8.3" fill="#e03a20"/>
<text x="1680.5" y="14" font-size="12" fill="#fff" text-anchor="middle">1</text>
</svg>
</div><div class="bev"></div><div class="bev2"></div>
<svg width="212" height="60" style="position:absolute;left:0;top:46px" font-family="Liberation Sans, sans-serif">
<defs>
<linearGradient id="gbtn" x1="0" y1="0" x2="0" y2="1"><stop offset="0" stop-color="#f45454"/><stop offset="1" stop-color="#dc3636"/></linearGradient>
<linearGradient id="gpx" x1="0" y1="0" x2="0" y2="1"><stop offset="0" stop-color="#dc3030"/><stop offset="1" stop-color="#b00606"/></linearGradient>
<linearGradient id="gspin" x1="0" y1="0" x2="0" y2="1"><stop offset="0" stop-color="#f6f6f6"/><stop offset="1" stop-color="#d4d4d4"/></linearGradient>
</defs>
<rect x="0" y="2" width="43" height="24" fill="url(#gbtn)"/>
<rect x="0" y="2" width="43" height="1" fill="#b81818"/><rect x="42" y="2" width="1" height="24" fill="#c02020"/>
<rect x="0" y="25" width="39" height="1" fill="#901010"/>
<rect x="158" y="2" width="52" height="24" fill="url(#gbtn)"/>
<rect x="158" y="2" width="52" height="1" fill="#b81818"/><rect x="158" y="2" width="1" height="24" fill="#c02020"/><rect x="209" y="2" width="1" height="24" fill="#c02020"/>
<rect x="162" y="25" width="44" height="1" fill="#901010"/>
<rect x="43" y="2" width="115" height="24" fill="#fff"/>
<rect x="45.5" y="2.5" width="110" height="21" fill="#fff" stroke="#a8a8b0"/>
<rect x="46" y="3" width="20" height="20" fill="url(#gspin)"/><rect x="66" y="3" width="1" height="20" fill="#b0b0b8"/>
<rect x="134" y="3" width="21" height="20" fill="url(#gspin)"/><rect x="134" y="3" width="1" height="20" fill="#b0b0b8"/>
<path d="M52.5,11.5h6l-3,3z" fill="#4a64c0"/>
<path d="M141.5,14.5h6l-3,-3z" fill="#4a64c0"/>
<text x="131" y="17" font-size="12.5" fill="#000" text-anchor="end">1.00</text>
<text x="3" y="18" font-size="11.8" fill="#fff" textLength="26" lengthAdjust="spacingAndGlyphs">SELL</text>
<text x="171" y="18" font-size="11.6" fill="#fff">BUY</text>
<rect x="0" y="26" width="100" height="33" fill="url(#gpx)"/>
<rect x="102" y="26" width="108" height="33" fill="url(#gpx)"/>
<text x="14" y="54" font-size="12" font-weight="bold" fill="#fff">115</text>
<text x="38" y="53.7" font-size="34" fill="#fff" textLength="35" lengthAdjust="spacingAndGlyphs">01</text>
<text x="77.5" y="38.2" font-size="12.5" font-weight="bold" fill="#fff">2</text>
<text x="124" y="54" font-size="12" font-weight="bold" fill="#fff">115</text>
<text x="149" y="53.7" font-size="34" fill="#fff" textLength="35" lengthAdjust="spacingAndGlyphs">03</text>
<text x="188.5" y="38.2" font-size="12.5" font-weight="bold" fill="#fff">0</text>
</svg>

</body></html>
